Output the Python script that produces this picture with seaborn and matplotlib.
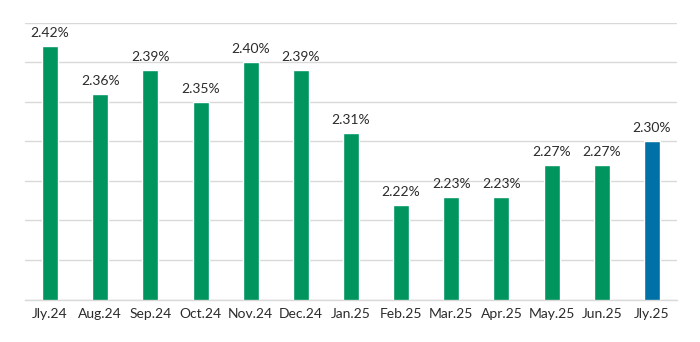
import matplotlib
matplotlib.use("Agg")
import matplotlib.pyplot as plt
import seaborn as sns
import pandas as pd

months = ["Jly.24", "Aug.24", "Sep.24", "Oct.24", "Nov.24", "Dec.24", "Jan.25",
          "Feb.25", "Mar.25", "Apr.25", "May.25", "Jun.25", "Jly.25"]
rates = [2.42, 2.36, 2.39, 2.35, 2.40, 2.39, 2.31, 2.22, 2.23, 2.23, 2.27, 2.27, 2.30]
labels = ["2.42%", "2.36%", "2.39%", "2.35%", "2.40%", "2.39%", "2.31%",
          "2.22%", "2.23%", "2.23%", "2.27%", "2.27%", "2.30%"]

green = "#00955F"
blue = "#0071A7"
colors = [green] * (len(months) - 1) + [blue]

sns.set_theme(style="white")
plt.rcParams["font.family"] = ["Lato", "DejaVu Sans"]

df = pd.DataFrame({"month": months, "rate": rates})

fig = plt.figure(figsize=(7, 3.42), dpi=100)
ax = fig.add_axes([25 / 700, 1 - 299.5 / 342, 652 / 700, (299.5 - 22.5) / 342])

sns.barplot(data=df, x="month", y="rate", hue="month", palette=colors,
            legend=False, width=0.32, ax=ax, saturation=1)

ax.set_ylim(2.10, 2.45)
ax.set_yticks([2.10, 2.15, 2.20, 2.25, 2.30, 2.35, 2.40, 2.45])
ax.set_yticklabels([])
ax.yaxis.grid(True, color="#d9d9d9", linewidth=1)
ax.set_axisbelow(True)
ax.tick_params(axis="y", length=0)
ax.tick_params(axis="x", length=0, pad=6, labelsize=10, colors="#2b2b2b")
ax.set_xlabel("")
ax.set_ylabel("")
for s in ["left", "right", "top"]:
    ax.spines[s].set_visible(False)
ax.spines["bottom"].set_color("#d9d9d9")
ax.spines["bottom"].set_linewidth(1)

for i, (v, t) in enumerate(zip(rates, labels)):
    ax.annotate(t, (i, v), xytext=(0, 5), textcoords="offset points",
                ha="center", va="bottom", fontsize=10, color="#2b2b2b")

fig.savefig("out.png", dpi=100)
